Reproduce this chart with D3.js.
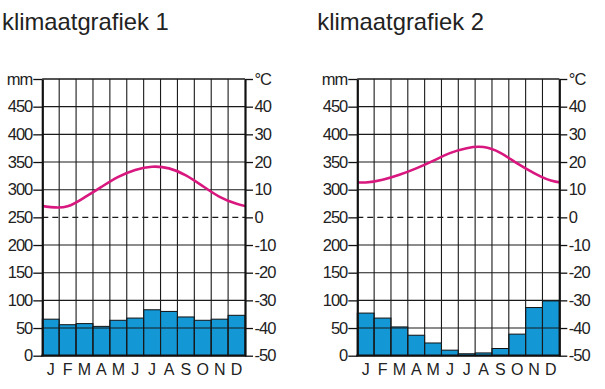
<!DOCTYPE html>
<html>
<head>
<meta charset="utf-8">
<script src="https://cdn.jsdelivr.net/npm/d3@7"></script>
<style>
  body { margin: 0; background: #fff; }
  svg { display: block; font-family: "Liberation Sans", Arial, sans-serif; }
</style>
</head>
<body>
<svg id="chart" width="605" height="389"></svg>
<script>
// data
let months = ["J", "F", "M", "A", "M", "J", "J", "A", "S", "O", "N", "D"];
let precip1 = [66, 56, 58, 53, 64, 68, 83, 80, 70, 64, 66, 73];
let temp1 = [3.7, 4.0, 7.2, 11, 14.6, 17.1, 18.3, 17.7, 15.2, 11.3, 7.4, 4.9];
let precip2 = [77, 68, 52, 37, 23, 10, 3.5, 5, 13, 39, 87, 99];
let temp2 = [12.6, 13.6, 15.4, 17.7, 20.4, 23.2, 25, 25.4, 23.3, 19.5, 16, 13.3];
let mmTicks = d3.range(0, 501, 50);
let degTicks = d3.range(-50, 51, 10);
let titles = ["klimaatgrafiek 1", "klimaatgrafiek 2"];

let svg = d3.select("#chart");
let plotTop = 79, plotBottom = 355.7;

let yP = d3.scaleLinear().domain([0, 500]).range([plotBottom, plotTop]);
let yT = d3.scaleLinear().domain([-50, 50]).range([plotBottom, plotTop]);

function drawChart(id, left, right, precip, temp, title, titleX) {
  let g = svg.append("g");
  let x = d3.scaleBand().domain(d3.range(12)).range([left, right]).padding(0);
  let xi = d3.scaleLinear().domain([0, 12]).range([left, right]);

  g.append("text")
    .attr("x", titleX).attr("y", 29.5)
    .attr("font-size", 23.8).attr("fill", "#222")
    .text(title);

  g.append("clipPath").attr("id", "clip" + id)
    .append("rect").attr("x", left).attr("y", plotTop)
    .attr("width", right - left).attr("height", plotBottom - plotTop);

  // bars
  g.selectAll(".bar").data(precip).join("rect")
    .attr("x", (d, i) => x(i))
    .attr("y", d => yP(d))
    .attr("width", x.bandwidth())
    .attr("height", d => yP(0) - yP(d))
    .attr("fill", "#1397d5")
    .attr("stroke", "#111")
    .attr("stroke-width", 1);

  // horizontal grid
  g.selectAll(".hgrid").data(mmTicks.filter(d => d !== 250 && d !== 0)).join("line")
    .attr("x1", left).attr("x2", right)
    .attr("y1", d => yP(d)).attr("y2", d => yP(d))
    .attr("stroke", "#1a1a1a").attr("stroke-width", 1.1);

  // vertical grid
  g.selectAll(".vgrid").data(d3.range(1, 12)).join("line")
    .attr("x1", d => xi(d)).attr("x2", d => xi(d))
    .attr("y1", plotTop).attr("y2", plotBottom)
    .attr("stroke", "#1a1a1a").attr("stroke-width", 1.1);

  // 0 degree dashed line
  g.append("line")
    .attr("x1", left).attr("x2", right)
    .attr("y1", yT(0)).attr("y2", yT(0))
    .attr("stroke", "#1a1a1a").attr("stroke-width", 1.3)
    .attr("stroke-dasharray", "6,4");

  // temperature curve, wrapped around the year
  let pts = [[-1.5, temp[10]], [-0.5, temp[11]]]
    .concat(temp.map((t, i) => [i + 0.5, t]), [[12.5, temp[0]], [13.5, temp[1]]]);
  let line = d3.line()
    .x(d => xi(d[0]))
    .y(d => yT(d[1]))
    .curve(d3.curveNatural);
  g.append("path")
    .datum(pts)
    .attr("clip-path", "url(#clip" + id + ")")
    .attr("d", line)
    .attr("fill", "none")
    .attr("stroke", "#d8177f")
    .attr("stroke-width", 2.6);

  // axes
  let axL = g.append("g").attr("transform", `translate(${left},0)`)
    .call(d3.axisLeft(yP).tickValues(mmTicks).tickSize(9).tickSizeOuter(0).tickPadding(1)
      .tickFormat(d => d === 500 ? "mm" : String(d)));
  let axR = g.append("g").attr("transform", `translate(${right},0)`)
    .call(d3.axisRight(yT).tickValues(degTicks).tickSize(8).tickSizeOuter(0).tickPadding(1.5)
      .tickFormat(d => d === 50 ? "°C" : String(d)));
  [axL, axR].forEach(ax => {
    ax.select(".domain").attr("stroke", "#111").attr("stroke-width", 2.2);
    ax.selectAll(".tick line").attr("stroke", "#111").attr("stroke-width", 1.3);
    ax.selectAll(".tick text")
      .attr("font-size", 16.5).attr("fill", "#222")
      .attr("letter-spacing", -1)
      .attr("font-family", "Liberation Sans, Arial, sans-serif");
  });

  // top and bottom frame
  g.append("line").attr("x1", left).attr("x2", right)
    .attr("y1", plotTop).attr("y2", plotTop)
    .attr("stroke", "#1a1a1a").attr("stroke-width", 1.1);
  g.append("line").attr("x1", left - 1).attr("x2", right + 1)
    .attr("y1", plotBottom).attr("y2", plotBottom)
    .attr("stroke", "#111").attr("stroke-width", 2.2);

  // month labels
  g.selectAll(".month").data(months).join("text")
    .attr("x", (d, i) => x(i) + x.bandwidth() / 2)
    .attr("y", 374.8)
    .attr("text-anchor", "middle")
    .attr("font-size", 16).attr("fill", "#222")
    .text(d => d);
}

drawChart(1, 42.3, 245, precip1, temp1, titles[0], 2);
drawChart(2, 357.3, 559.3, precip2, temp2, titles[1], 317.3);
</script>
</body>
</html>
